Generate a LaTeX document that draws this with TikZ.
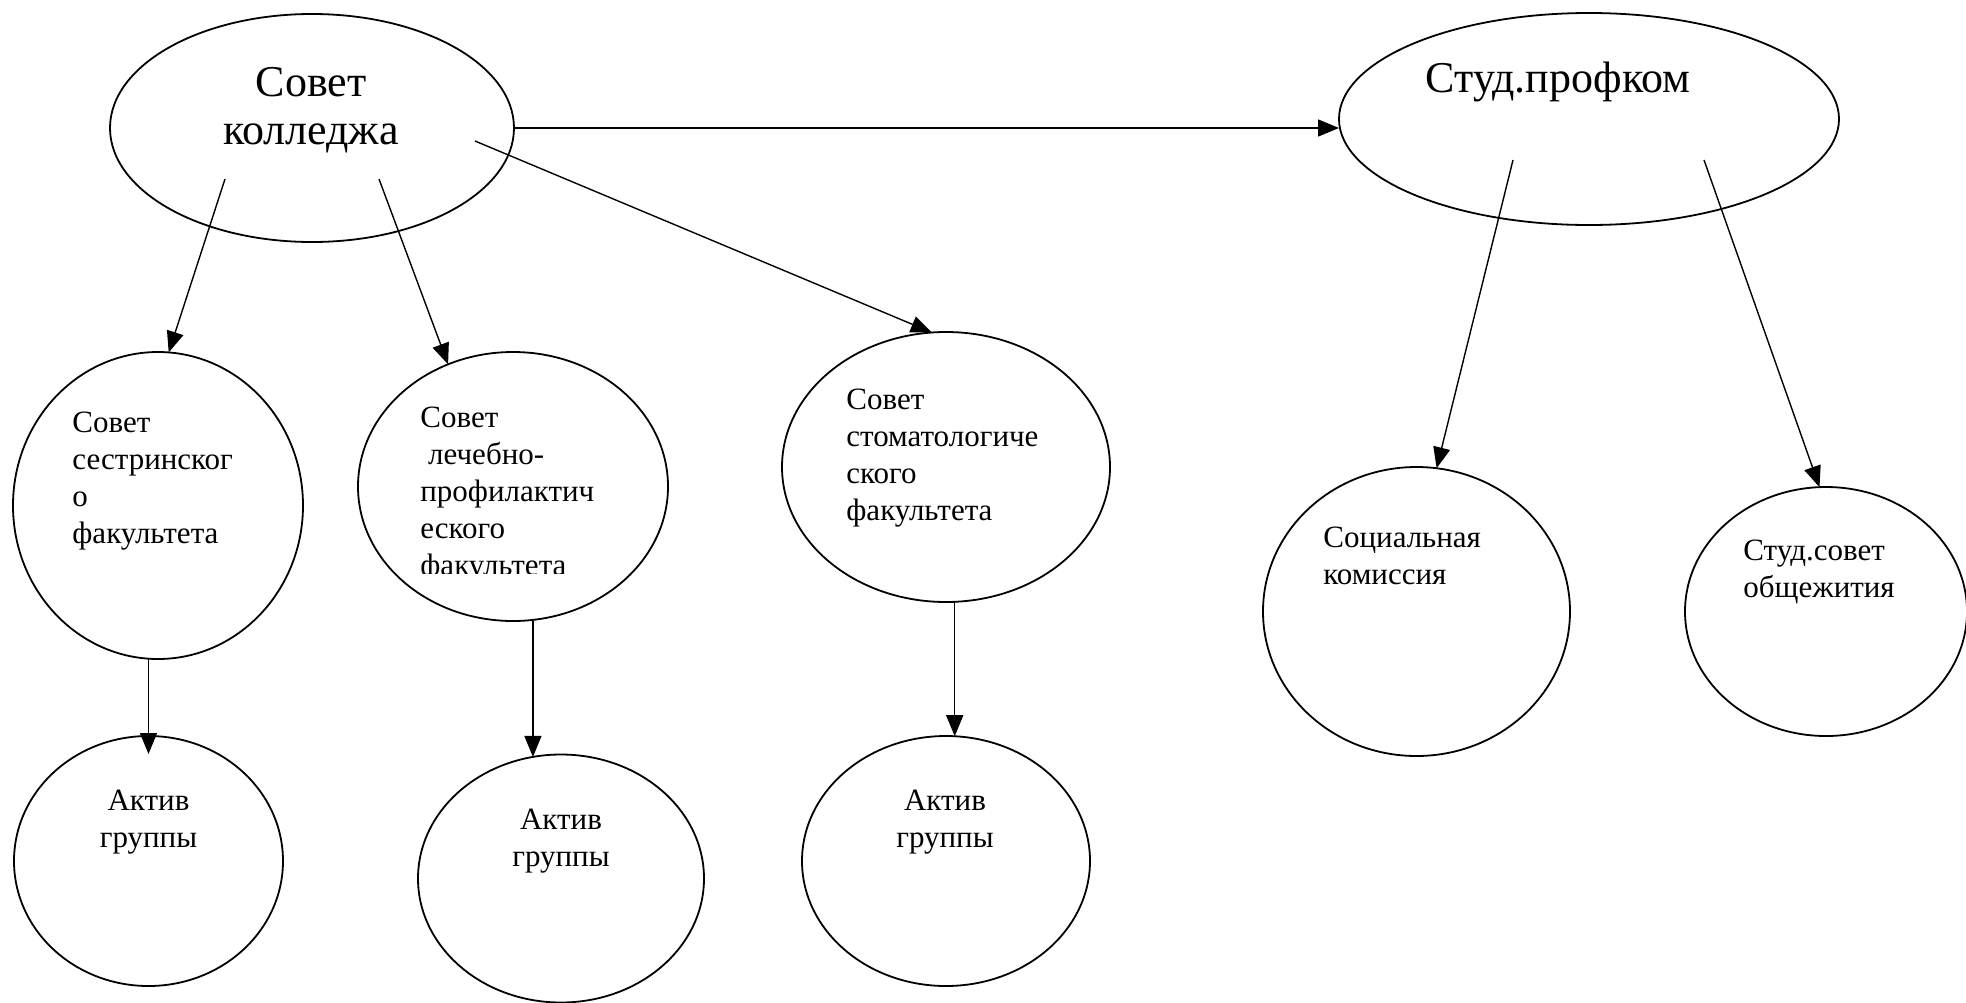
\documentclass[tikz,border=0pt]{standalone}
\usepackage{fontspec}
\setmainfont{Liberation Serif}
\usetikzlibrary{arrows.meta,positioning,shapes.geometric}

\begin{document}
\begin{tikzpicture}[x=0.5pt,y=-0.5pt,
    bubble/.style={ellipse, draw, line width=0.9pt, inner sep=0pt, outer sep=0pt},
    bigtxt/.style={font=\fontsize{22pt}{24pt}\selectfont, inner sep=0pt, align=center, anchor=base},
    smalltxt/.style={font=\fontsize{15.5pt}{18.4pt}\selectfont, inner sep=0pt, align=left, anchor=base west},
    midtxt/.style={smalltxt, align=center, anchor=base},
    link/.style={-{Triangle[length=10.5pt,width=8.5pt]}, line width=0.7pt}]
\useasboundingbox (0,0) rectangle (1966,1002);

% top level
\node (kol) [bubble, minimum width=202pt, minimum height=114pt] at (312,128) {};
\node (prof) [bubble, minimum width=250pt, minimum height=106pt] at (1589,119) {};
\node (kolt) [bigtxt] at (311,144) {Совет\\колледжа};
\node (proft) [bigtxt] at (1558,92) {Студ.профком};

% faculty councils
\node (sestr) [bubble, minimum width=145pt, minimum height=153.5pt] at (158,505.5) {};
\node (lech) [bubble, minimum width=155pt, minimum height=134.5pt] at (513,486.5) {};
\node (stom) [bubble, minimum width=164pt, minimum height=135pt] at (946,467) {};
\node (sestrt) [smalltxt] at (72,543) {Совет\\сестринског\\о\\факультета};
\begin{scope}
  \clip (340,380) rectangle (680,573);
  \node (lecht) [smalltxt] at (420,575) {Совет\\\ лечебно-\\профилактич\\еского\\факультета};
\end{scope}
\node (stomt) [smalltxt] at (846,520) {Совет\\стоматологиче\\ского\\факультета};

% group actives
\node (akt1) [bubble, minimum width=134.5pt, minimum height=125pt] at (148.5,861) {};
\node (akt2) [bubble, minimum width=143pt, minimum height=124pt] at (561,878.5) {};
\node (akt3) [bubble, minimum width=144pt, minimum height=125pt] at (946,861) {};
\node (akt1t) [midtxt] at (148.5,847) {Актив\\группы};
\node (akt2t) [midtxt] at (561,866) {Актив\\группы};
\node (akt3t) [midtxt] at (945,847) {Актив\\группы};

% profkom branches
\node (soc) [bubble, minimum width=153.5pt, minimum height=144.5pt] at (1416.5,611.5) {};
\node (stud) [bubble, minimum width=141pt, minimum height=124.5pt] at (1826,611.5) {};
\node (soct) [smalltxt] at (1323,584) {Социальная\\комиссия};
\node (studt) [smalltxt] at (1743,597) {Студ.совет\\общежития};

% line starts inside the top ellipses
\coordinate (k1) at (225,179);
\coordinate (k2) at (379,179);
\coordinate (k3) at (475,141);
\coordinate (p1) at (1513,160);
\coordinate (p2) at (1704,160);

\draw [link] (kol.east) -- (kol.east -| prof.west);
\draw [link] (k1) -- (sestr.86);
\draw [link] (k2) -- (lech.118);
\draw [link] (k3) -- (stom.96);
\draw [link] (p1) -- (soc.82);
\draw [link] (p2) -- (stud.93);
\draw [link] (akt1.north |- sestr.south) -- ([yshift=-9pt]akt1.north);
\draw [link] (akt2.103 |- lech.south) -- (akt2.103);
\draw [link] (akt3.86 |- stom.south) -- (akt3.86);
\end{tikzpicture}
\end{document}
